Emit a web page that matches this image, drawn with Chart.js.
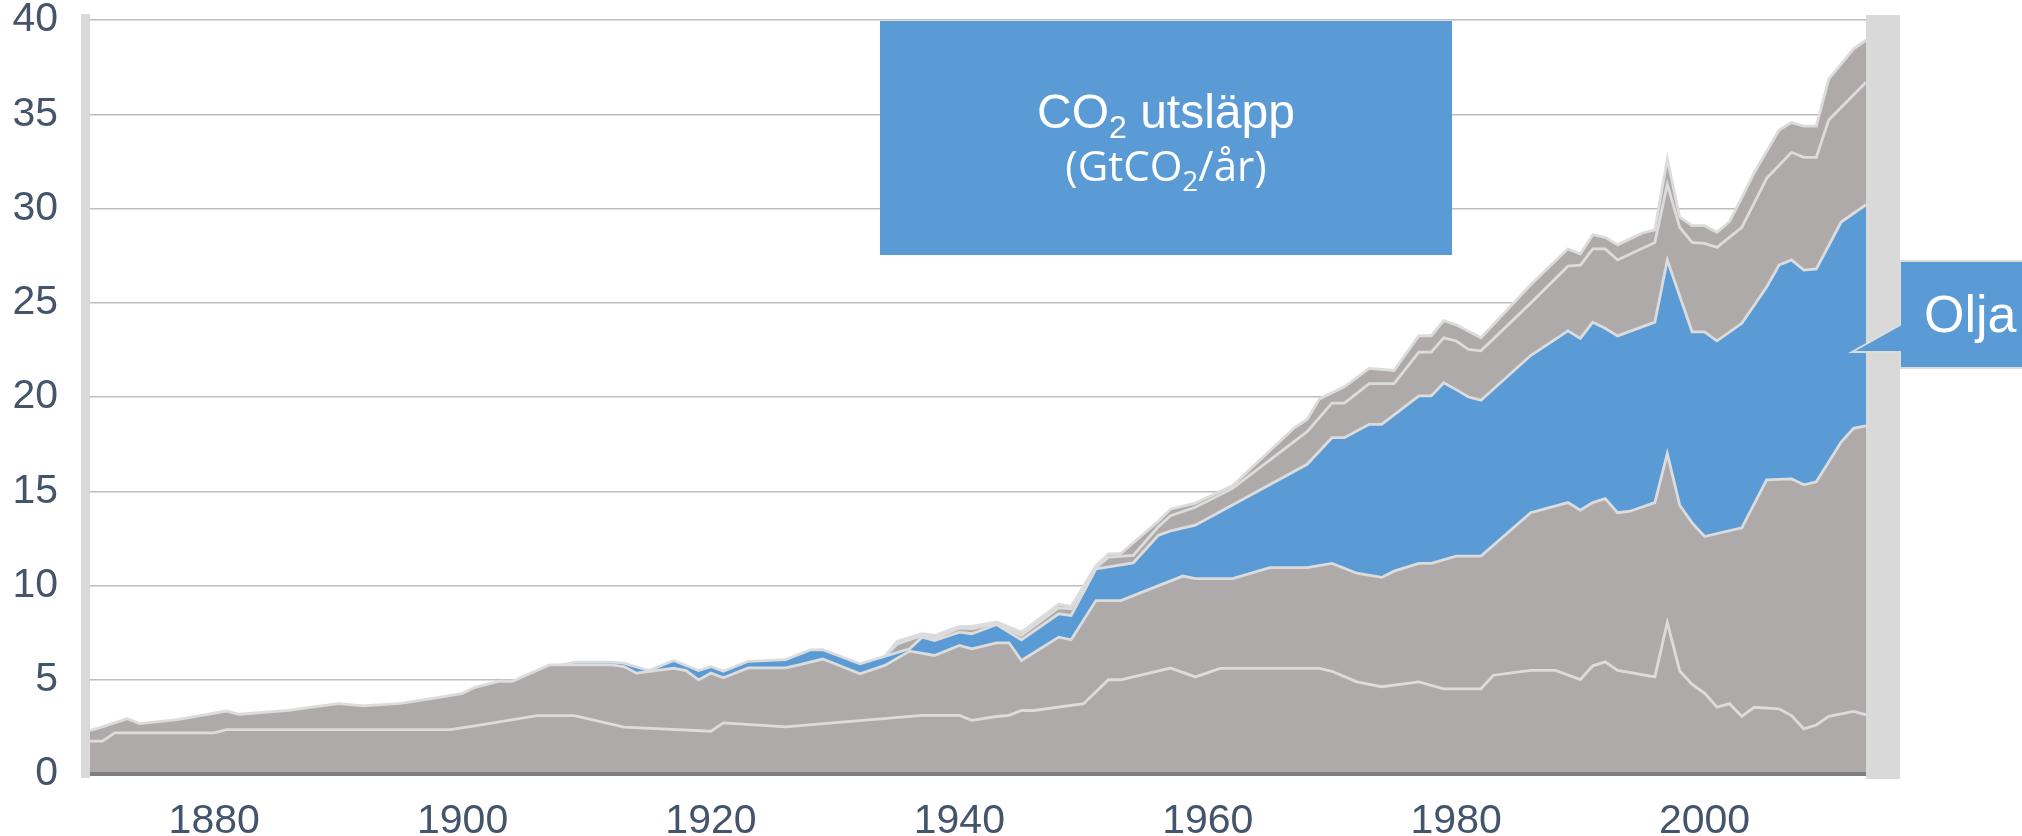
<!DOCTYPE html>
<html lang="sv">
<head>
<meta charset="utf-8">
<title>CO2 utsläpp</title>
<script src="https://cdn.jsdelivr.net/npm/chart.js"></script>
<style>
    html, body { margin: 0; padding: 0; background: #ffffff; }
    #main { width: 2022px; height: 836px; }
</style>
</head>
<body>
<div id="main"><canvas id="grafik" width="2022" height="836"></canvas></div>
<script>
// Nivåer (toppen av varje lager, GtCO2/år)
const landUseYears = [1870,1871,1872,1880,1881,1899,1901,1906,1909,1913,1920,1921,1926,1937,1940,1941,1943,1944,1945,1946,1950,1952,1953,1957,1959,1961,1969,1970,1972,1974,1977,1979,1982,1983,1986,1988,1990,1991,1992,1993,1996,1997,1998,1999,2000,2001,2002,2003,2004,2006,2007,2008,2009,2010,2012,2013];
const landUse = [1.74,1.74,2.18,2.18,2.35,2.35,2.55,3.1,3.1,2.49,2.27,2.71,2.5,3.11,3.11,2.85,3.05,3.11,3.37,3.37,3.73,5.0,5.0,5.62,5.15,5.6,5.6,5.45,4.89,4.63,4.89,4.52,4.52,5.24,5.5,5.5,5.01,5.74,5.95,5.5,5.15,8.04,5.47,4.75,4.29,3.54,3.73,3.06,3.54,3.46,3.1,2.39,2.6,3.06,3.32,3.14];

const coalYears = [1870,1871,1873,1874,1877,1881,1882,1886,1888,1890,1892,1895,1898,1900,1901,1903,1904,1907,1912,1913,1914,1917,1918,1919,1920,1921,1923,1926,1927,1929,1932,1934,1936,1938,1940,1941,1943,1944,1945,1948,1949,1951,1953,1958,1959,1962,1965,1968,1970,1972,1974,1975,1977,1978,1980,1982,1986,1989,1990,1991,1992,1993,1994,1996,1997,1998,1999,2000,2003,2005,2007,2008,2009,2011,2012,2013];
const coal = [2.31,2.5,2.94,2.67,2.88,3.34,3.17,3.38,3.56,3.73,3.61,3.75,4.05,4.28,4.6,4.92,4.92,5.79,5.79,5.7,5.35,5.61,5.49,4.99,5.35,5.1,5.63,5.63,5.78,6.1,5.32,5.76,6.52,6.29,6.82,6.64,6.96,6.96,6.02,7.26,7.12,9.2,9.2,10.5,10.37,10.37,10.95,10.95,11.17,10.65,10.43,10.76,11.17,11.17,11.56,11.56,13.86,14.4,14.0,14.4,14.61,13.86,13.94,14.4,17.0,14.26,13.32,12.6,13.06,15.6,15.66,15.34,15.5,17.61,18.34,18.47];

const oilYears = [1908,1909,1912,1913,1915,1917,1919,1920,1921,1923,1926,1928,1929,1932,1936,1937,1938,1940,1941,1943,1945,1948,1949,1951,1954,1956,1957,1959,1968,1970,1971,1973,1974,1977,1978,1979,1980,1981,1982,1986,1989,1990,1991,1992,1993,1996,1997,1999,2000,2001,2003,2005,2006,2007,2008,2009,2011,2013];
const oil = [5.79,5.93,5.93,5.88,5.49,6.02,5.49,5.7,5.45,5.98,6.07,6.58,6.6,5.85,6.64,7.26,7.08,7.53,7.44,7.93,7.12,8.5,8.41,10.88,11.2,12.65,12.9,13.2,16.43,17.84,17.84,18.55,18.55,20.06,20.06,20.76,20.39,20.0,19.83,22.2,23.51,23.11,23.97,23.65,23.24,23.97,27.27,23.46,23.46,22.98,23.91,25.84,27.0,27.27,26.73,26.8,29.28,30.2];

const gasYears = [1934,1935,1937,1938,1940,1941,1943,1945,1948,1949,1951,1952,1954,1956,1957,1959,1962,1968,1970,1971,1973,1975,1977,1978,1979,1980,1981,1982,1986,1989,1990,1991,1992,1993,1996,1997,1998,1999,2000,2001,2003,2005,2007,2008,2009,2010,2013];
const gas = [6.24,6.9,7.35,7.2,7.74,7.7,8.0,7.35,8.82,8.76,10.95,11.5,11.6,13.1,13.7,14.15,15.15,18.16,19.68,19.68,20.71,20.71,22.38,22.38,23.14,22.97,22.53,22.45,24.98,26.94,27.0,27.86,27.86,27.27,28.2,31.29,29.0,28.2,28.15,27.94,29.0,31.6,32.98,32.71,32.71,34.7,36.7];

const totalYears = [1934,1935,1937,1938,1940,1941,1943,1945,1948,1949,1951,1952,1953,1956,1957,1959,1962,1967,1968,1969,1971,1973,1975,1977,1978,1979,1980,1982,1986,1989,1990,1991,1992,1993,1995,1996,1997,1998,1999,2000,2001,2002,2003,2004,2006,2007,2008,2009,2010,2012,2013];
const total = [6.24,7.05,7.44,7.35,7.83,7.83,8.06,7.53,9.0,8.89,11.06,11.68,11.7,13.4,14.05,14.37,15.3,18.38,18.81,19.9,20.54,21.52,21.41,23.25,23.25,24.05,23.83,23.14,25.95,27.86,27.59,28.61,28.47,28.07,28.7,28.87,32.63,29.54,29.09,29.09,28.74,29.3,30.56,31.9,34.16,34.56,34.37,34.37,36.86,38.47,38.93];

const xTicks = [1880, 1900, 1920, 1940, 1960, 1980, 2000];
const yTicks = [0, 5, 10, 15, 20, 25, 30, 35, 40];

const GRA = '#AEAAAA';
const BLA = '#5B9BD5';
const LINJE = '#DCDCDC';
const TEXT = '#44546A';

function punkter(years, values) {
    return years.map((y, i) => ({ x: y, y: values[i] }));
}

// Text med nedsänkt 2:a, centrerad kring cx
function textMedIndex(ctx, delar, cx, baseline) {
    let bredd = 0;
    delar.forEach(d => { ctx.font = d.font; bredd += ctx.measureText(d.t).width; });
    let x = cx - bredd / 2;
    delar.forEach(d => {
        ctx.font = d.font;
        ctx.fillText(d.t, x, baseline + (d.dy || 0));
        x += ctx.measureText(d.t).width;
    });
}

const dekor = {
    id: 'dekor',
    afterDraw(chart) {
        const ctx = chart.ctx;
        const a = chart.chartArea;
        const y0 = chart.scales.y.getPixelForValue(0);
        ctx.save();

        // Nollinje
        ctx.fillStyle = '#7F7F7F';
        ctx.fillRect(a.left, y0 - 2, a.right - a.left + 3, 4);

        // Grå staplar vid sidorna
        ctx.fillStyle = '#D9D9D9';
        ctx.fillRect(a.left - 9, a.top - 6, 9, y0 - a.top + 10);
        ctx.fillRect(a.right, a.top - 5, 34, y0 - a.top + 10);

        // Rubrikruta
        ctx.fillStyle = BLA;
        ctx.fillRect(880, 21, 572, 234);
        ctx.fillStyle = '#FFFFFF';
        ctx.textBaseline = 'alphabetic';
        ctx.textAlign = 'left';
        textMedIndex(ctx, [
            { t: 'CO', font: '48px Arial, "Liberation Sans"' },
            { t: '2', font: '32px Arial, "Liberation Sans"', dy: 10 },
            { t: ' utsläpp', font: '48px Arial, "Liberation Sans"' }
        ], 1166, 128);
        textMedIndex(ctx, [
            { t: '(GtCO', font: '42px "Open Sans"' },
            { t: '2', font: '28px "Open Sans"', dy: 10 },
            { t: '/år)', font: '42px "Open Sans"' }
        ], 1166, 181);

        // Pratbubbla "Olja"
        ctx.beginPath();
        ctx.moveTo(1900, 261);
        ctx.lineTo(2030, 261);
        ctx.lineTo(2030, 368);
        ctx.lineTo(1900, 368);
        ctx.lineTo(1900, 352);
        ctx.lineTo(1852, 352);
        ctx.lineTo(1900, 325);
        ctx.closePath();
        ctx.fillStyle = BLA;
        ctx.fill();
        ctx.strokeStyle = LINJE;
        ctx.lineWidth = 2;
        ctx.stroke();
        ctx.fillStyle = '#FFFFFF';
        ctx.font = '52px Arial, "Liberation Sans"';
        ctx.fillText('Olja', 1924, 332);

        ctx.restore();
    }
};

window.addEventListener('load', function () {
    Chart.defaults.font.family = 'Arial, "Liberation Sans", sans-serif';

    const lager = [
        { label: 'Markanvändning', data: punkter(landUseYears, landUse), backgroundColor: GRA },
        { label: 'Kol', data: punkter(coalYears, coal), backgroundColor: GRA },
        { label: 'Olja', data: punkter(oilYears, oil), backgroundColor: BLA },
        { label: 'Gas', data: punkter(gasYears, gas), backgroundColor: GRA },
        { label: 'Övrigt', data: punkter(totalYears, total), backgroundColor: GRA }
    ].map(d => Object.assign(d, {
        fill: 'origin',
        borderColor: LINJE,
        borderWidth: 2.8,
        pointRadius: 0,
        tension: 0
    }));

    new Chart(document.getElementById('grafik'), {
        type: 'line',
        data: { datasets: lager },
        plugins: [dekor],
        options: {
            responsive: false,
            animation: false,
            devicePixelRatio: 1,
            layout: { padding: { left: 0, top: 20, right: 156, bottom: 0 } },
            plugins: {
                legend: { display: false },
                tooltip: { enabled: false },
                title: { display: false }
            },
            scales: {
                x: {
                    type: 'linear',
                    min: 1870,
                    max: 2013,
                    grid: { display: false },
                    border: { display: false },
                    afterBuildTicks: axis => { axis.ticks = xTicks.map(v => ({ value: v })); },
                    afterFit: axis => {
                        axis.height = 62;
                        axis.paddingLeft = 0;
                        axis.paddingRight = 0;
                    },
                    ticks: {
                        autoSkip: false,
                        maxRotation: 0,
                        padding: 15,
                        color: TEXT,
                        font: { size: 41 },
                        callback: v => String(v)
                    }
                },
                y: {
                    min: 0,
                    max: 40,
                    grid: { color: '#BDBDBD', lineWidth: 1.5, drawTicks: false },
                    border: { display: false },
                    afterBuildTicks: axis => { axis.ticks = yTicks.map(v => ({ value: v })); },
                    afterFit: axis => {
                        axis.width = 90;
                        axis.paddingTop = 0;
                        axis.paddingBottom = 0;
                    },
                    ticks: {
                        padding: 32,
                        color: TEXT,
                        font: { size: 41 }
                    }
                }
            }
        }
    });
});
</script>
</body>
</html>
